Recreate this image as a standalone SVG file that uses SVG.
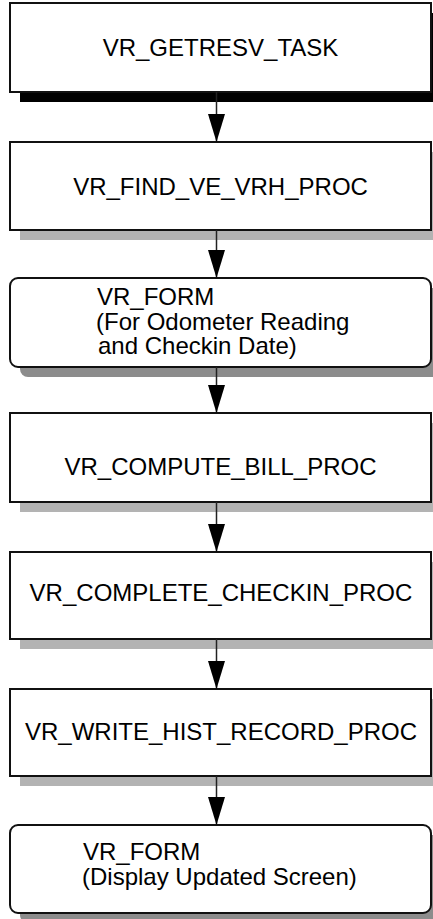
<svg xmlns="http://www.w3.org/2000/svg" width="433" height="919" viewBox="0 0 433 919">
<defs>
<style>
.box{fill:#fff;stroke:#111;stroke-width:2}
.sh{fill:#b3b3b3}
.shd{fill:#8c8c8c}
.t{font-family:"Liberation Sans",Arial,sans-serif;font-size:24px;fill:#000}
.c{text-anchor:middle}
.ln{stroke:#222;stroke-width:1.5;fill:none}
</style>
<marker id="ah" markerUnits="userSpaceOnUse" markerWidth="28" markerHeight="17" refX="27" refY="8.5" orient="auto" viewBox="0 0 28 17">
<path d="M0,0 L28,8.5 L0,17 Z" fill="#000"/>
</marker>
</defs>
<rect width="433" height="919" fill="#fff"/>
<g id="n1">
<rect x="20" y="13" width="421" height="89" fill="#000"/>
<rect class="box" x="10" y="3" width="421" height="89"/>
<text class="t c" x="220.5" y="56">VR_GETRESV_TASK</text>
</g>
<g id="n2">
<rect class="sh" x="20" y="152" width="421" height="88"/>
<rect class="box" x="10" y="142" width="421" height="88"/>
<text class="t c" x="220.5" y="195">VR_FIND_VE_VRH_PROC</text>
</g>
<g id="n3">
<rect class="shd" x="20" y="288" width="421" height="89" rx="8"/>
<rect class="box" x="10" y="278" width="421" height="89" rx="8"/>
<text class="t" x="97" y="305">VR_FORM</text>
<text class="t" x="96" y="329.5">(For Odometer Reading</text>
<text class="t" x="98" y="354">and Checkin Date)</text>
</g>
<g id="n4">
<rect class="sh" x="20" y="423" width="421" height="89"/>
<rect class="box" x="10" y="413" width="421" height="89"/>
<text class="t c" x="220.5" y="475">VR_COMPUTE_BILL_PROC</text>
</g>
<g id="n5">
<rect class="sh" x="20" y="562" width="421" height="87"/>
<rect class="box" x="10" y="552" width="421" height="87"/>
<text class="t c" x="221" y="601">VR_COMPLETE_CHECKIN_PROC</text>
</g>
<g id="n6">
<rect class="sh" x="20" y="699" width="421" height="87"/>
<rect class="box" x="10" y="689" width="421" height="87"/>
<text class="t c" x="221" y="740">VR_WRITE_HIST_RECORD_PROC</text>
</g>
<g id="n7">
<rect class="shd" x="20" y="835" width="421" height="88" rx="8"/>
<rect class="box" x="10" y="825" width="421" height="88" rx="8"/>
<text class="t" x="83" y="860">VR_FORM</text>
<text class="t" x="82" y="884.5">(Display Updated Screen)</text>
</g>
<g id="connectors">
<line class="ln" x1="216.5" y1="92" x2="216.5" y2="141" marker-end="url(#ah)"/>
<line class="ln" x1="216.5" y1="230" x2="216.5" y2="277" marker-end="url(#ah)"/>
<line class="ln" x1="216.5" y1="367" x2="216.5" y2="412" marker-end="url(#ah)"/>
<line class="ln" x1="216.5" y1="502" x2="216.5" y2="551" marker-end="url(#ah)"/>
<line class="ln" x1="216.5" y1="639" x2="216.5" y2="688" marker-end="url(#ah)"/>
<line class="ln" x1="216.5" y1="776" x2="216.5" y2="824" marker-end="url(#ah)"/>
</g>
</svg>
